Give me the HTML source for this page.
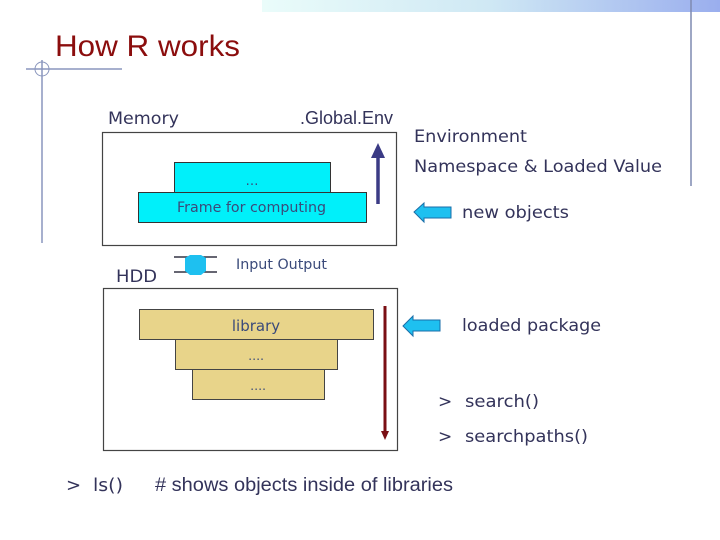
<!DOCTYPE html>
<html><head><meta charset="utf-8"><style>
html,body{margin:0;padding:0;background:#fff;}
svg{display:block;}
text{font-family:"DejaVu Sans","Liberation Sans",sans-serif;fill:#33335a;}
</style></head><body>
<svg width="720" height="540" viewBox="0 0 720 540" xmlns="http://www.w3.org/2000/svg">
<defs>
<linearGradient id="g" x1="0" x2="1" y1="0" y2="0">
<stop offset="0" stop-color="#eafcfa"/><stop offset="0.5" stop-color="#cfe8f4"/><stop offset="1" stop-color="#9aaeee"/>
</linearGradient>
</defs>
<rect x="262" y="0" width="458" height="12" fill="url(#g)"/>
<line x1="691" y1="0" x2="691" y2="186" stroke="#7f8ab0" stroke-width="1.5"/>
<line x1="42" y1="60" x2="42" y2="243" stroke="#8a96bd" stroke-width="1.5"/>
<line x1="26" y1="69" x2="122" y2="69" stroke="#8a96bd" stroke-width="1.5"/>
<circle cx="42" cy="69" r="7" fill="none" stroke="#8a96bd" stroke-width="1"/>
<text x="55" y="56" style="font-family:'Liberation Sans',sans-serif;fill:#8b0d0d" font-size="30" textLength="185" lengthAdjust="spacingAndGlyphs">How R works</text>
<text x="108" y="124" font-size="17" textLength="71" lengthAdjust="spacingAndGlyphs">Memory</text>
<text x="300" y="124" style="font-family:'Liberation Sans',sans-serif;fill:#33335a" font-size="18" textLength="93" lengthAdjust="spacingAndGlyphs">.Global.Env</text>
<rect x="102.5" y="132.5" width="294" height="113" fill="#fff" stroke="#444" stroke-width="1.2"/>
<rect x="174.5" y="162.5" width="156" height="30" fill="#00f0fa" stroke="#333" stroke-width="1"/>
<text x="252" y="185" font-size="13" text-anchor="middle" style="fill:#3a4a7a">…</text>
<rect x="138.5" y="192.5" width="228" height="30" fill="#00f0fa" stroke="#333" stroke-width="1"/>
<text x="177" y="212" font-size="14" style="fill:#3a4a7a" textLength="149" lengthAdjust="spacingAndGlyphs">Frame for computing</text>
<line x1="378" y1="204" x2="378" y2="156" stroke="#3b3b85" stroke-width="3.5"/>
<polygon points="378,143 371,158 385,158" fill="#3b3b85"/>
<text x="414" y="142" font-size="17" textLength="113" lengthAdjust="spacingAndGlyphs">Environment</text>
<text x="414" y="172" font-size="17" textLength="248" lengthAdjust="spacingAndGlyphs">Namespace &amp; Loaded Value</text>
<polygon points="414,212 424,203 424,207 451,207 451,218 424,218 424,222" fill="#1ec0f0" stroke="#1a6ea8" stroke-width="1"/>
<text x="462" y="218" font-size="17" textLength="107" lengthAdjust="spacingAndGlyphs">new objects</text>
<text x="116" y="282" font-size="17" textLength="41" lengthAdjust="spacingAndGlyphs">HDD</text>
<line x1="174" y1="257" x2="217" y2="257" stroke="#334" stroke-width="1.5"/>
<line x1="174" y1="272" x2="217" y2="272" stroke="#334" stroke-width="1.5"/>
<polygon points="185,258 190,255 201,255 206,258 206,271 201,275 190,275 185,271" fill="#1ec0f0"/>
<text x="236" y="269" font-size="14" style="fill:#3a4a7a" textLength="91" lengthAdjust="spacingAndGlyphs">Input Output</text>
<rect x="103.5" y="288.5" width="294" height="162" fill="#fff" stroke="#444" stroke-width="1.2"/>
<rect x="139.5" y="309.5" width="234" height="30" fill="#e8d48a" stroke="#444" stroke-width="1"/>
<text x="256" y="331" font-size="15" text-anchor="middle" style="fill:#3a4a7a">library</text>
<rect x="175.5" y="339.5" width="162" height="30" fill="#e8d48a" stroke="#444" stroke-width="1"/>
<text x="256" y="360" font-size="12" text-anchor="middle" style="fill:#3a4a7a">….</text>
<rect x="192.5" y="369.5" width="132" height="30" fill="#e8d48a" stroke="#444" stroke-width="1"/>
<text x="258" y="390" font-size="12" text-anchor="middle" style="fill:#3a4a7a">….</text>
<line x1="385" y1="306" x2="385" y2="432" stroke="#7a0f14" stroke-width="3"/>
<polygon points="385,440 381,431 389,431" fill="#7a0f14"/>
<polygon points="403,326 413,316 413,320 440,320 440,331 413,331 413,336" fill="#1ec0f0" stroke="#1a6ea8" stroke-width="1"/>
<text x="462" y="331" font-size="17" textLength="139" lengthAdjust="spacingAndGlyphs">loaded package</text>
<text x="438" y="407" font-size="17">&gt;</text>
<text x="465" y="407" font-size="17" textLength="74" lengthAdjust="spacingAndGlyphs">search()</text>
<text x="438" y="442" font-size="17">&gt;</text>
<text x="465" y="442" font-size="17" textLength="123" lengthAdjust="spacingAndGlyphs">searchpaths()</text>
<text x="66" y="491" font-size="18">&gt;</text>
<text x="93" y="491" font-size="18" textLength="30" lengthAdjust="spacingAndGlyphs">ls()</text>
<text x="155" y="491" style="font-family:'Liberation Sans',sans-serif;fill:#33335a" font-size="19" textLength="298" lengthAdjust="spacingAndGlyphs"># shows objects inside of libraries</text>
</svg>
</body></html>
